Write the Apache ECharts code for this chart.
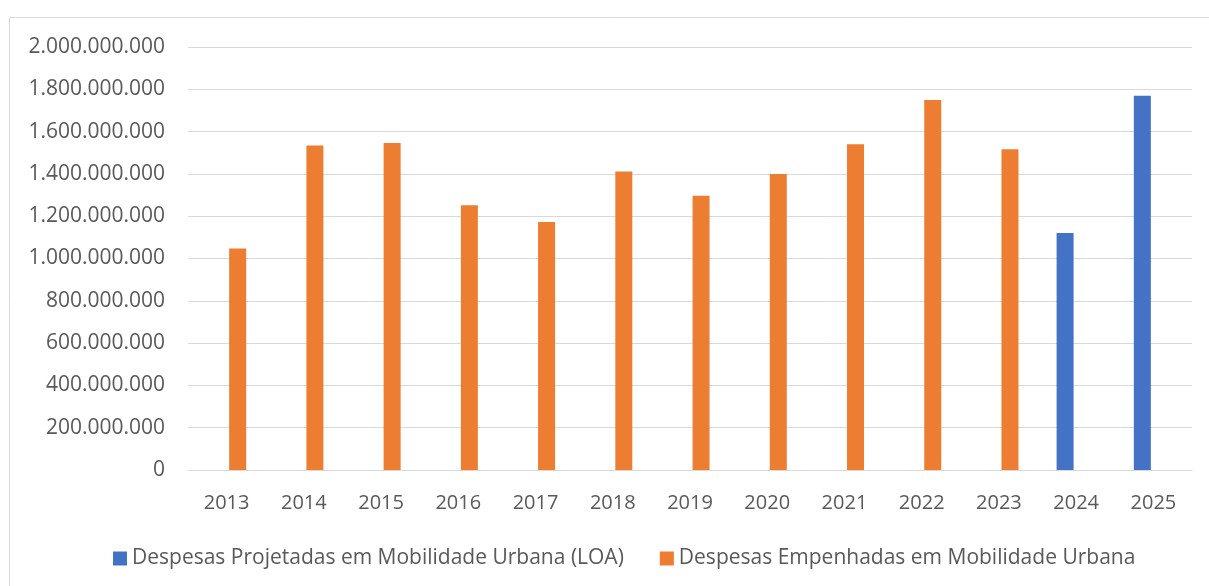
<!DOCTYPE html>
<html>
<head>
<meta charset="utf-8">
<script src="https://cdn.jsdelivr.net/npm/echarts@6/dist/echarts.min.js"></script>
<style>
  html, body { margin: 0; padding: 0; background: #fff; }
  #chart { width: 1209px; height: 586px; }
</style>
</head>
<body>
<div id="chart"></div>
<script>
// Years on the category axis
const years = ['2013', '2014', '2015', '2016', '2017', '2018', '2019', '2020', '2021', '2022', '2023', '2024', '2025'];

// Budgeted (LOA) spending — only projected years have values
const projetadas = [null, null, null, null, null, null, null, null, null, null, null, 1120000000, 1770000000];

// Committed spending per year
const empenhadas = [1047000000, 1534000000, 1546000000, 1252000000, 1173000000, 1411000000, 1297000000, 1399000000, 1540000000, 1750000000, 1517000000, null, null];

const seriesNames = ['Despesas Projetadas em Mobilidade Urbana (LOA)', 'Despesas Empenhadas em Mobilidade Urbana'];

const FONT = '"Open Sans", sans-serif';
const TEXT = '#595959';

function ptBR(v) {
  return String(v).replace(/\B(?=(\d{3})+(?!\d))/g, '.');
}

const chart = echarts.init(document.getElementById('chart'), null, { renderer: 'canvas' });

chart.setOption({
  animation: false,
  backgroundColor: '#ffffff',
  graphic: [{
    type: 'rect',
    shape: { x: 9.5, y: 17.5, width: 1260, height: 620 },
    style: { fill: 'none', stroke: '#d9d9d9', lineWidth: 1 },
    silent: true,
    z: -1
  }],
  grid: { left: 188, right: 17, top: 47, bottom: 116, containLabel: false },
  legend: {
    left: 108,
    top: 543,
    itemWidth: 14,
    itemHeight: 14,
    itemGap: 36,
    icon: 'rect',
    textStyle: { color: TEXT, fontFamily: FONT, fontSize: 21 },
    data: seriesNames
  },
  xAxis: {
    type: 'category',
    data: years,
    axisLine: { show: true, lineStyle: { color: '#d9d9d9', width: 1 } },
    axisTick: { show: false },
    axisLabel: { color: TEXT, fontFamily: FONT, fontSize: 20, margin: 23 }
  },
  yAxis: {
    type: 'value',
    min: 0,
    max: 2000000000,
    interval: 200000000,
    axisLine: { show: false },
    axisTick: { show: false },
    splitLine: { lineStyle: { color: '#d9d9d9', width: 1 } },
    axisLabel: { color: TEXT, fontFamily: FONT, fontSize: 21, margin: 23, formatter: ptBR }
  },
  series: [
    {
      name: seriesNames[0],
      type: 'bar',
      data: projetadas,
      barWidth: 17,
      barGap: '30%',
      itemStyle: { color: '#4472c4' }
    },
    {
      name: seriesNames[1],
      type: 'bar',
      data: empenhadas,
      barWidth: 17,
      barGap: '30%',
      itemStyle: { color: '#ed7d31' }
    }
  ]
});
</script>
</body>
</html>
